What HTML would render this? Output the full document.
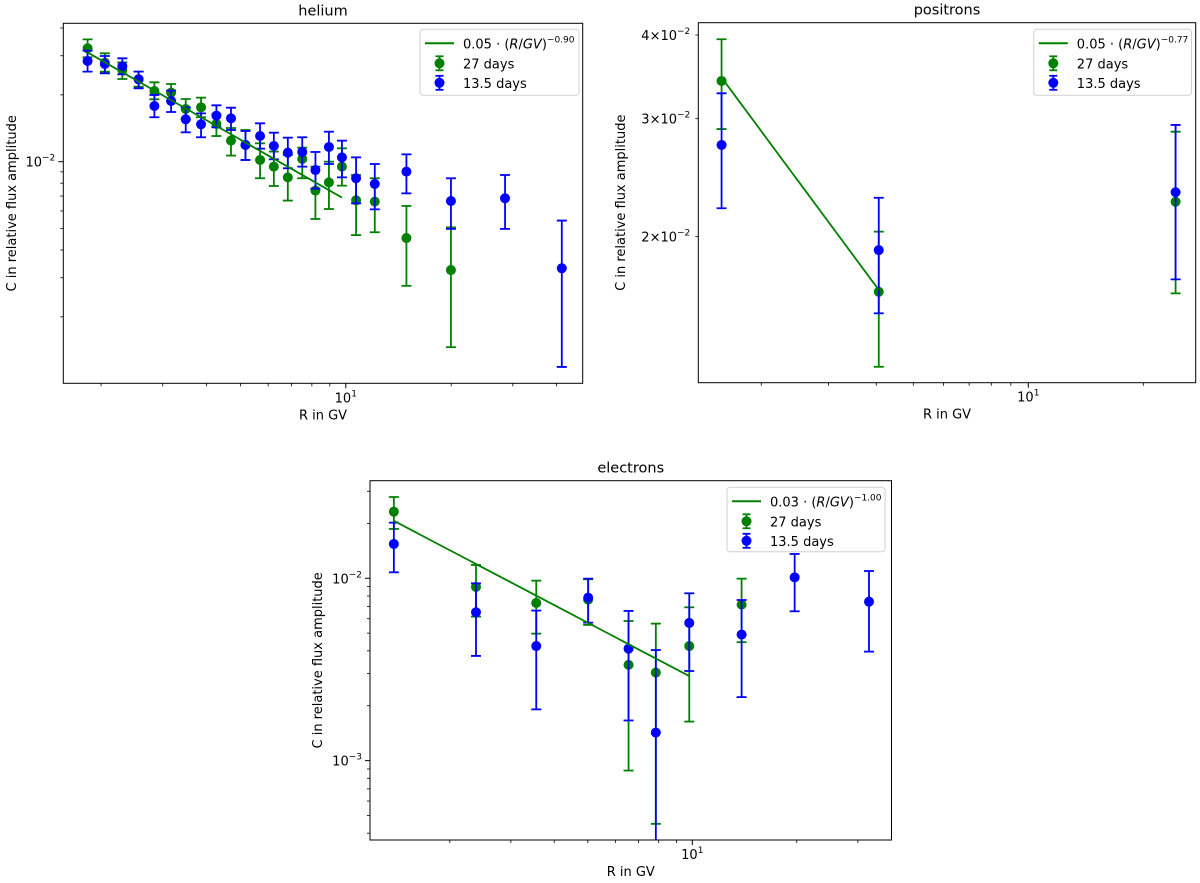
<!DOCTYPE html>
<html><head><meta charset="utf-8">
<style>
body{margin:0;background:#fff;}
svg{display:block;font-family:"DejaVu Sans","Liberation Sans",sans-serif;}
</style></head>
<body>
<svg id="fig" width="1200" height="883" viewBox="0 0 1200 883" xmlns="http://www.w3.org/2000/svg"></svg>
<script>
// ---------- helium data ----------
const heR27 = [1.83,2.05,2.30,2.56,2.84,3.17,3.49,3.86,4.27,4.70,5.17,5.69,6.23,6.83,7.51,8.19,8.95,9.75,10.7,12.1,14.9,19.97];
const heC27 = [0.03242,0.02793,0.02588,0.02350,0.02082,0.02046,0.01727,0.01757,0.01479,0.01244,0.01189,0.01018,0.00950,0.00850,0.01028,0.00741,0.00807,0.00950,0.00670,0.00661,0.00453,0.00325];
const heHi27 = [0.03557,0.03077,0.02800,0.02544,0.02278,0.02239,0.01916,0.01943,0.01640,0.01418,0.01389,0.01210,0.01110,0.01072,0.01157,0.00950,0.01000,0.01149,0.00871,0.00842,0.00632,0.00506];
const heLo27 = [0.02952,0.02544,0.02358,0.02178,0.01910,0.01877,0.01552,0.01585,0.01305,0.01065,0.01018,0.00842,0.00777,0.00668,0.00842,0.00552,0.00612,0.00780,0.00467,0.00481,0.00276,0.00146];
const heR13 = [1.83,2.05,2.30,2.56,2.84,3.17,3.49,3.86,4.27,4.70,5.17,5.69,6.23,6.83,7.51,8.19,8.95,9.75,10.7,12.1,14.9,19.97,28.5,41.4];
const heC13 = [0.02842,0.02754,0.02689,0.02350,0.01782,0.01877,0.01552,0.01474,0.01612,0.01568,0.01189,0.01305,0.01177,0.01098,0.01106,0.00917,0.01165,0.01046,0.00842,0.00794,0.00902,0.00665,0.00684,0.00331];
const heHi13 = [0.03164,0.02993,0.02921,0.02544,0.01998,0.02089,0.01757,0.01651,0.01794,0.01751,0.01375,0.01489,0.01351,0.01283,0.01288,0.01106,0.01365,0.01244,0.01046,0.00976,0.01079,0.00842,0.00871,0.00543];
const heLo13 = [0.02544,0.02500,0.02475,0.02141,0.01585,0.01674,0.01356,0.01288,0.01428,0.01389,0.01018,0.01145,0.01025,0.00934,0.00950,0.00756,0.00976,0.00850,0.00649,0.00610,0.00720,0.00498,0.00498,0.00119];
const heFit = [0.0535, 0.90, 1.83, 9.75]; // amplitude, index, Rmin, Rmax
// ---------- positron data ----------
const poR = [1.574,4.06,24.3];
const poC27 = [0.03415,0.01655,0.02255];
const poHi27 = [0.03941,0.02035,0.02869];
const poLo27 = [0.02895,0.01279,0.01646];
const poC13 = [0.02741,0.0191,0.0233];
const poHi13 = [0.03273,0.02286,0.02936];
const poLo13 = [0.02205,0.01537,0.01727];
const poFit = [0.049, 0.77, 1.574, 4.06];
// ---------- electron data ----------
const elR27 = [1.38,2.38,3.55,5.01,6.55,7.85,9.80,13.87];
const elC27 = [0.02318,0.00896,0.00732,0.00764,0.00335,0.00304,0.00425,0.00717];
const elHi27 = [0.02790,0.01183,0.00970,0.00987,0.00583,0.00564,0.00693,0.00995];
const elLo27 = [0.01864,0.00616,0.00497,0.00555,0.000882,0.000450,0.001637,0.00446];
const elR13 = [1.38,2.38,3.55,5.01,6.55,7.85,9.80,13.87,19.72,32.3];
const elC13 = [0.01542,0.00651,0.00425,0.00783,0.00411,0.001425,0.00569,0.00491,0.01012,0.00744];
const elHi13 = [0.02018,0.00938,0.00665,0.00995,0.00662,0.00404,0.00827,0.00760,0.01359,0.01096];
const elLo13 = [0.01078,0.00375,0.00191,0.00571,0.00166,0.0002,0.00310,0.00223,0.00659,0.00396];
const elFit = [0.0285, 1.00, 1.38, 9.80];

const NS="http://www.w3.org/2000/svg";
const fig=document.getElementById('fig');
function mk(tag,attrs,parent){const e=document.createElementNS(NS,tag);for(const k in attrs)e.setAttribute(k,attrs[k]);(parent||fig).appendChild(e);return e;}
const GREEN="#008000", BLUE="#0000ff";

function panel(cfg){
  const g=mk('g',{});
  
  
  const L=cfg.box[0],T=cfg.box[1],R=cfg.box[2],B=cfg.box[3];
  const lx0=Math.log10(cfg.xd[0]),lx1=Math.log10(cfg.xd[1]);
  const ly0=Math.log10(cfg.yd[0]),ly1=Math.log10(cfg.yd[1]);
  const X=v=>L+(Math.log10(v)-lx0)/(lx1-lx0)*(R-L);
  const Y=v=>B-(Math.log10(v)-ly0)/(ly1-ly0)*(B-T);
  const clip='clip-'+cfg.name;
  const cp=mk('clipPath',{id:clip},g); mk('rect',{x:L,y:T,width:R-L,height:B-T},cp);
  // ticks
  const tg=mk('g',{},g);
  
  
  for(let d=-5;d<=3;d++){for(let m=1;m<10;m++){
    const v=m*Math.pow(10,d);
    if(v>=cfg.xd[0]&&v<=cfg.xd[1]){const x=X(v);mk('line',{x1:x,x2:x,y1:B,y2:B+(m==1?5:3),stroke:'#000','stroke-width':m==1?1:0.8},tg);
      if(m==1){const t=mk('text',{x:x,y:B+19,'font-size':13,'text-anchor':'middle'},tg);t.textContent='10';const s=mk('tspan',{dy:-6,'font-size':9},t);s.textContent=String(d);}}
    if(v>=cfg.yd[0]&&v<=cfg.yd[1]){const y=Y(v);mk('line',{x1:L,x2:L-(m==1?5:3),y1:y,y2:y,stroke:'#000','stroke-width':m==1?1:0.8},tg);
      if(m==1||(cfg.ylabMinor&&cfg.ylabMinor.includes(m))){const t=mk('text',{x:L-8,y:y+5,'font-size':13,'text-anchor':'end'},tg);
        t.textContent=(m==1?'':m+'\u00d7')+'10';const s=mk('tspan',{dy:-6,'font-size':9},t);s.textContent='\u2212'+Math.abs(d);}}
  }}
  // series
  function series(name,rs,cs,hi,lo,col){
    const sg=mk('g',{'clip-path':'url(#'+clip+')'},g);
    
    
    rs.forEach((r,i)=>{
      const x=X(r),yh=Y(hi[i]),yl=Y(lo[i]),yc=Y(cs[i]);
      const eb=mk('line',{x1:x,x2:x,y1:yh,y2:yl,stroke:col,'stroke-width':1.8},sg);
      
      
      mk('line',{x1:x-5,x2:x+5,y1:yh,y2:yh,stroke:col,'stroke-width':1.8},sg);
      mk('line',{x1:x-5,x2:x+5,y1:yl,y2:yl,stroke:col,'stroke-width':1.8},sg);
      const c=mk('circle',{cx:x,cy:yc,r:5,fill:col},sg);
      
      
    });
  }
  // fit line
  const f=cfg.fit; const pts=[];
  for(let k=0;k<=40;k++){const r=Math.pow(10,Math.log10(f[2])+(Math.log10(f[3])-Math.log10(f[2]))*k/40);pts.push(X(r).toFixed(2)+','+Y(f[0]*Math.pow(r,-f[1])).toFixed(2));}
  series('series-27-days',cfg.r27,cfg.c27,cfg.hi27,cfg.lo27,GREEN);
  series('series-13-5-days',cfg.r13,cfg.c13,cfg.hi13,cfg.lo13,BLUE);
  const fl=mk('polyline',{points:pts.join(' '),fill:'none',stroke:GREEN,'stroke-width':1.8},g);
  
  
  // frame
  const fr=mk('rect',{x:L,y:T,width:R-L,height:B-T,fill:'none',stroke:'#000','stroke-width':1},g);
  
  
  // title & labels
  const tt=mk('text',{x:(L+R)/2,y:T-8,'font-size':14.5,'text-anchor':'middle'},g);tt.textContent=cfg.name;
  
  
  const xl=mk('text',{x:(L+R)/2,y:B+36,'font-size':13,'text-anchor':'middle'},g);xl.textContent='R in GV';
  
  
  const yx=cfg.ylx,yy=(T+B)/2;
  const yl=mk('text',{x:yx,y:yy,'font-size':13,'text-anchor':'middle',transform:'rotate(-90 '+yx+' '+yy+')'},g);yl.textContent='C in relative flux amplitude';
  
  
  // legend
  const lg=mk('g',{},g);
  
  
  const [lx,ly,lw,lh]=cfg.leg;
  mk('rect',{x:lx,y:ly,width:lw,height:lh,rx:3,fill:'#fff',stroke:'#d0d0d0','stroke-width':1},lg);
  mk('line',{x1:lx+5,x2:lx+34,y1:ly+14,y2:ly+14,stroke:GREEN,'stroke-width':2},lg);
  const t1=mk('text',{x:lx+43,y:ly+19,'font-size':13},lg);
  t1.innerHTML=cfg.amp+' \u00b7 (<tspan font-style="italic">R</tspan>/<tspan font-style="italic">GV</tspan>)<tspan dy="-6" font-size="9">\u2212'+cfg.idx+'</tspan>';
  [[GREEN,'27 days',34],[BLUE,'13.5 days',53.5]].forEach(([c,s,dy])=>{
    const cx=lx+19.5,cy=ly+dy;
    mk('line',{x1:cx,x2:cx,y1:cy-7,y2:cy+7,stroke:c,'stroke-width':1.8},lg);
    mk('line',{x1:cx-4,x2:cx+4,y1:cy-7,y2:cy-7,stroke:c,'stroke-width':1.8},lg);
    mk('line',{x1:cx-4,x2:cx+4,y1:cy+7,y2:cy+7,stroke:c,'stroke-width':1.8},lg);
    mk('circle',{cx:cx,cy:cy,r:5,fill:c},lg);
    const t=mk('text',{x:lx+43,y:cy+5,'font-size':13},lg);t.textContent=s;
    
    
  });
}

panel({name:'helium',box:[63.3,23.3,582.7,383.3],xd:[1.560,47.5],yd:[0.001004,0.04201],
  r27:heR27,c27:heC27,hi27:heHi27,lo27:heLo27,r13:heR13,c13:heC13,hi13:heHi13,lo13:heLo13,
  fit:heFit,ylx:16,leg:[420,29.3,159,66],amp:'0.05',idx:'0.90'});
panel({name:'positrons',box:[698.3,22.7,1195.7,382.7],xd:[1.368,27.43],yd:[0.01211,0.04172],ylabMinor:[2,3,4],
  r27:poR,c27:poC27,hi27:poHi27,lo27:poLo27,r13:poR,c13:poC13,hi13:poHi13,lo13:poLo13,
  fit:poFit,ylx:625,leg:[1033.8,29.3,157.7,66],amp:'0.05',idx:'0.77'});
panel({name:'electrons',box:[370,480.7,891.5,840],xd:[1.178,37.5],yd:[0.000367,0.03428],
  r27:elR27,c27:elC27,hi27:elHi27,lo27:elLo27,r13:elR13,c13:elC13,hi13:elHi13,lo13:elLo13,
  fit:elFit,ylx:322,leg:[727,487.3,158,64.4],amp:'0.03',idx:'1.00'});
</script>
</body></html>
